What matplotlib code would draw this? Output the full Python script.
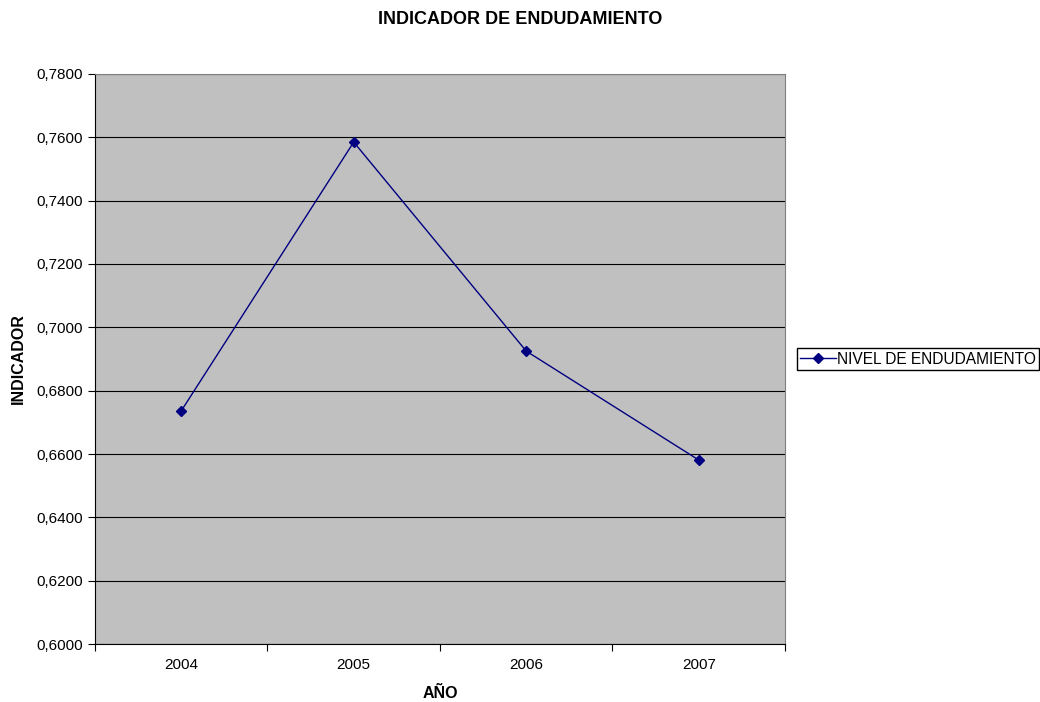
import numpy as np
import matplotlib
matplotlib.use('Agg')
import matplotlib.pyplot as plt
from matplotlib.ticker import FixedLocator, FuncFormatter

plt.rcParams['font.family'] = ['Liberation Sans', 'DejaVu Sans']

# datos
anios = ['2004', '2005', '2006', '2007']
nivel = [0.6736, 0.7585, 0.6925, 0.6581]

fig = plt.figure(figsize=(10.4, 7.02), dpi=100)
ax = fig.add_axes([0.0913, 0.0826, 0.6635, 0.812])
ax.set_facecolor('#c0c0c0')

x = np.arange(len(anios))
ax.plot(x, nivel, color='#000080', marker='D', markersize=5, linewidth=1,
        label='NIVEL DE ENDUDAMIENTO')

ax.set_xlim(-0.5, len(anios) - 0.5)
ax.set_ylim(0.60, 0.78)
ax.set_yticks(np.arange(0.60, 0.7801, 0.02))
ax.yaxis.set_major_formatter(FuncFormatter(lambda v, p: ('%.4f' % v).replace('.', ',')))
ax.grid(axis='y', color='black', linewidth=0.8)
ax.set_axisbelow(True)

# ticks entre categorias, etiquetas en el centro
ax.xaxis.set_major_locator(FixedLocator(np.arange(-0.5, len(anios), 1.0)))
ax.xaxis.set_minor_locator(FixedLocator(x))
ax.set_xticklabels([], minor=False)
ax.set_xticklabels(anios, minor=True)
ax.tick_params(axis='x', which='minor', length=0, pad=10)
ax.tick_params(axis='both', which='major', direction='out', length=5, labelsize=11, color='black')
ax.tick_params(axis='x', which='minor', labelsize=11)

for s in ['top', 'right']:
    ax.spines[s].set_color('#808080')
for s in ['left', 'bottom']:
    ax.spines[s].set_color('black')

ax.set_xlabel('AÑO', fontsize=11.5, fontweight='bold', labelpad=10)
ax.set_ylabel('INDICADOR', fontsize=11.5, fontweight='bold', labelpad=8)
fig.suptitle('INDICADOR DE ENDUDAMIENTO', fontsize=13, fontweight='bold', y=0.985, x=0.5)

leg = fig.legend(loc='center left', bbox_to_anchor=(0.766, 0.4886), fontsize=11.2,
                 fancybox=False, edgecolor='black', framealpha=1, handlelength=2.3,
                 borderpad=0.2, handletextpad=0.1, borderaxespad=0)
leg.get_frame().set_linewidth(1)

fig.savefig('out.png', dpi=100)
